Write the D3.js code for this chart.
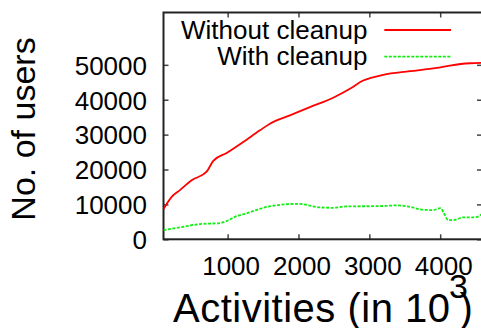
<!DOCTYPE html>
<html>
<head>
<meta charset="utf-8">
<script src="https://cdn.jsdelivr.net/npm/d3@7"></script>
<style>
  html, body { margin: 0; padding: 0; background: #fff; }
  svg { display: block; font-family: "Liberation Sans", Arial, Helvetica, sans-serif; }
</style>
</head>
<body>
<svg id="chart" width="481" height="328"></svg>
<script>
// ---- data ----
const seriesNames = ["Without cleanup", "With cleanup"];
const withoutX = [95, 210, 327, 492, 704, 797, 986, 1220, 1456, 1597, 1879, 2161, 2490, 2726, 2914, 3008, 3196, 3573, 3949, 4137, 4419, 4589];
const withoutY = [8660, 12170, 14090, 16940, 19370, 22460, 24740, 27890, 31230, 33140, 35510, 37880, 40570, 43140, 45510, 46170, 47140, 48170, 49140, 49800, 50450, 50570];
const withX = [95, 327, 609, 891, 986, 1127, 1268, 1503, 1738, 1997, 2303, 2490, 2679, 3149, 3385, 3573, 3714, 3902, 4006, 4043, 4113, 4184, 4325, 4490, 4589];
const withY = [2660, 3430, 4370, 4660, 5230, 6660, 7430, 9030, 9890, 10170, 9140, 9030, 9430, 9510, 9710, 9310, 8570, 8370, 8940, 7890, 5510, 5510, 6290, 6290, 7230];
const xTicks = [1000, 2000, 3000, 4000];
const yTicks = [0, 10000, 20000, 30000, 40000, 50000];
const xDomain = [95, 4590];
const yDomain = [0, 65000];

// ---- layout ----
const svg = d3.select("#chart");
const L = 163.5, R = 482, T = 12.5, B = 239.3;
const x = d3.scaleLinear().domain(xDomain).range([L, R]);
const y = d3.scaleLinear().domain(yDomain).range([B, T]);

svg.append("defs").append("clipPath").attr("id", "clip")
  .append("rect").attr("x", L).attr("y", T).attr("width", R - L).attr("height", B - T);

// axes with inward ticks
const fs = 26;
const gLeft = svg.append("g").attr("transform", `translate(${L},0)`)
  .call(d3.axisLeft(y).tickValues(yTicks).tickSize(-5).tickPadding(16.5).tickFormat(d3.format("d")));
gLeft.selectAll("text").attr("dy", "0.36em");

const gRight = svg.append("g").attr("transform", `translate(${R},0)`)
  .call(d3.axisRight(y).tickValues(yTicks).tickSize(-5).tickFormat(""));

const gBottom = svg.append("g").attr("transform", `translate(0,${B})`)
  .call(d3.axisBottom(x).tickValues(xTicks).tickSize(-5).tickPadding(17).tickFormat(d3.format("d")));
gBottom.selectAll("text").attr("dx", 3);

const gTop = svg.append("g").attr("transform", `translate(0,${T})`)
  .call(d3.axisTop(x).tickValues(xTicks).tickSize(-5).tickFormat(""));

[gLeft, gRight, gBottom, gTop].forEach(g => {
  g.select(".domain").remove();
  g.selectAll(".tick line").attr("stroke", "#444").attr("stroke-width", 1.5);
  g.selectAll("text").attr("font-size", fs).attr("fill", "#000")
    .attr("font-family", "Liberation Sans, Arial, sans-serif");
});

// border
svg.append("rect").attr("x", L).attr("y", T).attr("width", R - L).attr("height", B - T)
  .attr("fill", "none").attr("stroke", "#222").attr("stroke-width", 2);

// lines
const line = d3.line().x(d => x(d[0])).y(d => y(d[1])).curve(d3.curveMonotoneX);
const redData = withoutX.map((v, i) => [v, withoutY[i]]);
const greenData = withX.map((v, i) => [v, withY[i]]);
const plot = svg.append("g").attr("clip-path", "url(#clip)");
plot.append("path").datum(redData).attr("d", line)
  .attr("fill", "none").attr("stroke", "#ff0000").attr("stroke-width", 1.8);
plot.append("path").datum(greenData).attr("d", line)
  .attr("fill", "none").attr("stroke", "#11ee11").attr("stroke-width", 1.8)
  .attr("stroke-dasharray", "3,1.5");

// legend
const legend = svg.append("g");
const legendRows = [
  { name: seriesNames[0], color: "#ff0000", dash: null, base: 39.3, ly: 30 },
  { name: seriesNames[1], color: "#11ee11", dash: "3,1.5", base: 65, ly: 56.7 }
];
legendRows.forEach(r => {
  legend.append("text").attr("x", 367.5).attr("y", r.base).attr("text-anchor", "end")
    .attr("font-size", fs).attr("fill", "#000").text(r.name);
  legend.append("line").attr("x1", 384.3).attr("x2", 451).attr("y1", r.ly).attr("y2", r.ly)
    .attr("stroke", r.color).attr("stroke-width", 1.8)
    .attr("stroke-dasharray", r.dash);
});

// axis titles
svg.append("text").attr("transform", "translate(35,129) rotate(-90)")
  .attr("text-anchor", "middle").attr("font-size", 34).attr("fill", "#000")
  .text("No. of users");

const xt = svg.append("text").attr("y", 321.7).attr("font-size", 40).attr("fill", "#000");
xt.append("tspan").attr("x", 173).attr("textLength", 277).attr("lengthAdjust", "spacing")
  .text("Activities (in 10");
xt.append("tspan").attr("x", 449).attr("y", 298.3).attr("font-size", 34).text("3");
xt.append("tspan").attr("x", 459.5).attr("y", 321.7).text(")");
</script>
</body>
</html>
